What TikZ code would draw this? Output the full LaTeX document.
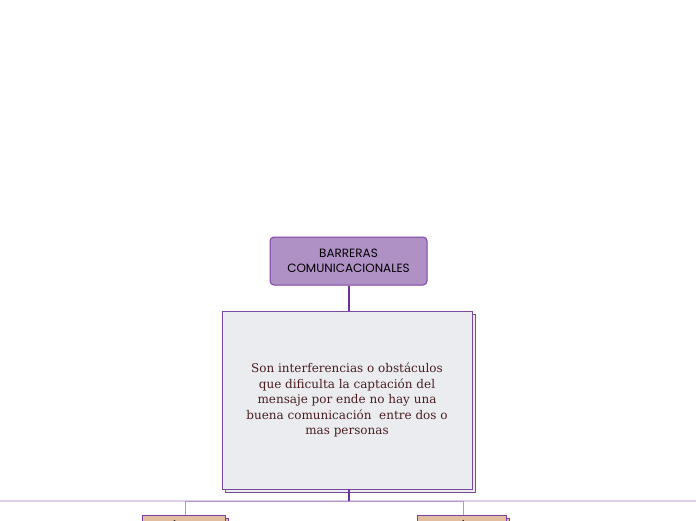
\documentclass[tikz,border=0pt]{standalone}
\usepackage{fontspec}
\setmainfont{DejaVu Serif}
\newfontfamily\titlefont{Poppins}
\begin{document}
\begin{tikzpicture}[x=1pt,y=-1pt,
  titlebox/.style={draw=titleborder,fill=titlefill,line width=1pt,rounded corners=4pt,minimum width=157pt,minimum height=48pt,inner sep=0pt,align=center,font=\titlefont\fontsize{12}{15}\selectfont,text=black},
  mainbox/.style={draw=boxborder,fill=boxfill,line width=0.9pt,minimum width=250pt,minimum height=178pt,inner sep=0pt,align=center,text=bodytext,font=\fontsize{12}{15.5}\selectfont},
  shadowbox/.style={draw=boxborder,fill=boxfill,line width=0.9pt},
  subbox/.style={draw=titleborder,fill=subfill,line width=0.9pt},
  conn/.style={draw=connline,line width=1.3pt},
  lightconn/.style={draw=lightline,line width=1pt}]
\definecolor{titlefill}{HTML}{AF91C6}
\definecolor{titleborder}{HTML}{7E3FA6}
\definecolor{boxfill}{HTML}{EBECF0}
\definecolor{boxborder}{HTML}{7A4AA0}
\definecolor{bodytext}{HTML}{4A1E1E}
\definecolor{connline}{HTML}{7030A0}
\definecolor{lightline}{HTML}{B496CF}
\definecolor{faintline}{HTML}{DCCDE8}
\definecolor{subfill}{HTML}{E3BD9F}
\useasboundingbox (0,0) rectangle (696,520);
\clip (0,0) rectangle (696,520);
% faint long line
\draw[draw=faintline,line width=1.2pt] (0,501) -- (696,501);
% title
\node[titlebox] (title) at (348.5,261) {BARRERAS\\COMUNICACIONALES};
% main box with shadow
\draw[shadowbox] (225,314) rectangle (475,492);
\node[mainbox] (main) at (347,400) {Son interferencias o obstáculos\\que dificulta la captación del\\mensaje por ende no hay una\\buena comunicación\ \ entre dos o\\mas personas};
\draw[conn] (title.south -| 349,0) -- (main.north -| 349,0);
% branches
\coordinate (hub) at (349,501);
\coordinate (lj) at (185,501);
\coordinate (rj) at (463,501);
\draw[conn] (main.south -| hub) -- (hub);
\draw[lightconn] (lj) -- (rj);
% bottom boxes
\draw[subbox] (145,518) rectangle (228,540);
\node[subbox,minimum width=83pt,minimum height=30pt,anchor=north west,inner sep=0pt] (left) at (142,515) {};
\draw[subbox] (420,518) rectangle (509,540);
\node[subbox,minimum width=89pt,minimum height=30pt,anchor=north west,inner sep=0pt] (right) at (417,515) {};
\node[anchor=base,inner sep=0pt,font=\titlefont\fontsize{11}{14}\selectfont] at (183,530) {SEMÁNTICAS};
\node[anchor=base,inner sep=0pt,font=\titlefont\fontsize{11}{14}\selectfont] at (461,530) {PSICOLÓGICAS};
\draw[lightconn] (lj) -- (left.north -| lj);
\draw[lightconn] (rj) -- (right.north -| rj);
\end{tikzpicture}
\end{document}
